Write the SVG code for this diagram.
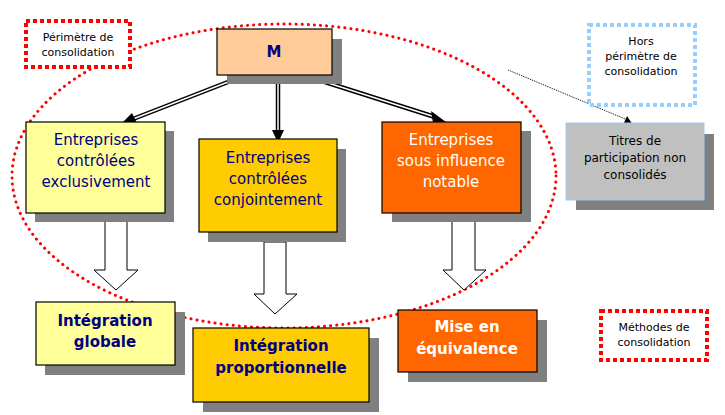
<svg xmlns="http://www.w3.org/2000/svg" width="725" height="415" viewBox="0 0 725 415">
<style>
.sh{fill:#808080}
.bx{stroke:#000;stroke-width:1.2}
.t{font-family:Verdana,"DejaVu Sans",sans-serif;text-anchor:middle}
.b{fill:#000080;font-size:15px}
.bb{fill:#000080;font-size:15px;font-weight:bold}
.w{fill:#fff;font-size:15px}
.s{fill:#000;font-size:11px}
.ba{fill:#fff;stroke:#000;stroke-width:1}
</style>
<defs>
<marker id="ah" viewBox="0 0 10 10" refX="9" refY="5" markerWidth="5" markerHeight="5" orient="auto"><path d="M0,0L10,5L0,10z" fill="#000"/></marker>
<marker id="ah2" viewBox="0 0 10 10" refX="9" refY="5" markerWidth="8" markerHeight="8" orient="auto" markerUnits="userSpaceOnUse"><path d="M0,0L10,5L0,10z" fill="#000"/></marker>
</defs>
<ellipse cx="284" cy="176" rx="272" ry="152" fill="none" stroke="#f00" stroke-width="3" stroke-dasharray="0.1 6" stroke-linecap="round"/>
<g id="connectors">
<g stroke="#000" stroke-width="4.5" fill="none"><line x1="228" y1="82" x2="133" y2="119"/><line x1="278" y1="84" x2="278" y2="130"/><line x1="325" y1="82" x2="435" y2="117"/></g>
<g stroke="#fff" stroke-width="1.5" fill="none"><line x1="228" y1="82" x2="133" y2="119"/><line x1="278" y1="84" x2="278" y2="130"/><line x1="325" y1="82" x2="435" y2="117"/></g>
<path d="M120,125L132,113L137,123z" fill="#000"/>
<path d="M272,130L284,130L278,143z" fill="#000"/>
<path d="M431,111L446,122L433,123z" fill="#000"/>
<line x1="508" y1="70" x2="630" y2="121" stroke="#000" stroke-width="1" stroke-dasharray="1 1"/>
<path d="M633,125L623,125L627,116z" fill="#000"/>
<path class="ba" d="M105,218H127V270H138L116,290L94,270H105z"/>
<path class="ba" d="M264,242H286V294H297L275,314L254,294H264z"/>
<path class="ba" d="M452,218H475V270H486L464,290L443,270H452z"/>
</g>
<g id="perimetre"><rect x="26" y="21" width="104" height="46" fill="#fff" stroke="#f00" stroke-width="4" stroke-dasharray="4 3"/><text class="t s" x="78" y="41">Périmètre de</text><text class="t s" x="78" y="56">consolidation</text></g>
<g id="hors"><rect x="589" y="25" width="106" height="80" fill="#fff" stroke="#9cf" stroke-width="4" stroke-dasharray="4 3"/><text class="t s" x="641" y="45">Hors</text><text class="t s" x="641" y="60">périmètre de</text><text class="t s" x="641" y="75">consolidation</text></g>
<g id="M"><rect class="sh" x="227" y="39" width="115" height="45"/><rect class="bx" x="217" y="29" width="115" height="46" fill="#FFCC99"/><text class="t bb" x="274" y="57">M</text></g>
<g id="n1"><rect class="sh" x="35" y="131" width="139" height="91"/><rect class="bx" x="26" y="122" width="139" height="91" fill="#FFFF99"/><text class="t b" x="96" y="145">Entreprises</text><text class="t b" x="96" y="166">contrôlées</text><text class="t b" x="96" y="187">exclusivement</text></g>
<g id="n2"><rect class="sh" x="208" y="149" width="138" height="93"/><rect class="bx" x="199" y="139" width="138" height="93" fill="#FFCC00"/><text class="t b" x="268" y="163">Entreprises</text><text class="t b" x="268" y="184">contrôlées</text><text class="t b" x="268" y="205">conjointement</text></g>
<g id="n3"><rect class="sh" x="392" y="131" width="139" height="91"/><rect class="bx" x="382" y="122" width="139" height="91" fill="#FF6600"/><text class="t w" x="451" y="145">Entreprises</text><text class="t w" x="451" y="166">sous influence</text><text class="t w" x="451" y="187">notable</text></g>
<g id="titres"><rect class="sh" x="576" y="134" width="138" height="76"/><rect x="566" y="123" width="138" height="77" fill="#C0C0C0" stroke="#9cf" stroke-width="1"/><text class="t" x="635" y="145" font-size="12">Titres de</text><text class="t" x="635" y="162" font-size="12">participation non</text><text class="t" x="635" y="179" font-size="12">consolidés</text></g>
<g id="ig"><rect class="sh" x="45" y="312" width="140" height="63"/><rect class="bx" x="36" y="302" width="139" height="63" fill="#FFFF99"/><text class="t bb" x="105" y="326">Intégration</text><text class="t bb" x="105" y="347">globale</text></g>
<g id="ip"><rect class="sh" x="203" y="338" width="176" height="74"/><rect class="bx" x="193" y="328" width="176" height="74" fill="#FFCC00"/><text class="t bb" x="281" y="351">Intégration</text><text class="t bb" x="281" y="373">proportionnelle</text></g>
<g id="me"><rect class="sh" x="408" y="320" width="139" height="62"/><rect class="bx" x="398" y="310" width="139" height="62" fill="#FF6600"/><text class="t w" x="467" y="332" font-weight="bold">Mise en</text><text class="t w" x="467" y="354" font-weight="bold">équivalence</text></g>
<g id="methodes"><rect x="601" y="311" width="106" height="49" fill="#fff" stroke="#f00" stroke-width="4" stroke-dasharray="4 3"/><text class="t s" x="654" y="331">Méthodes de</text><text class="t s" x="654" y="346">consolidation</text></g>
</svg>
